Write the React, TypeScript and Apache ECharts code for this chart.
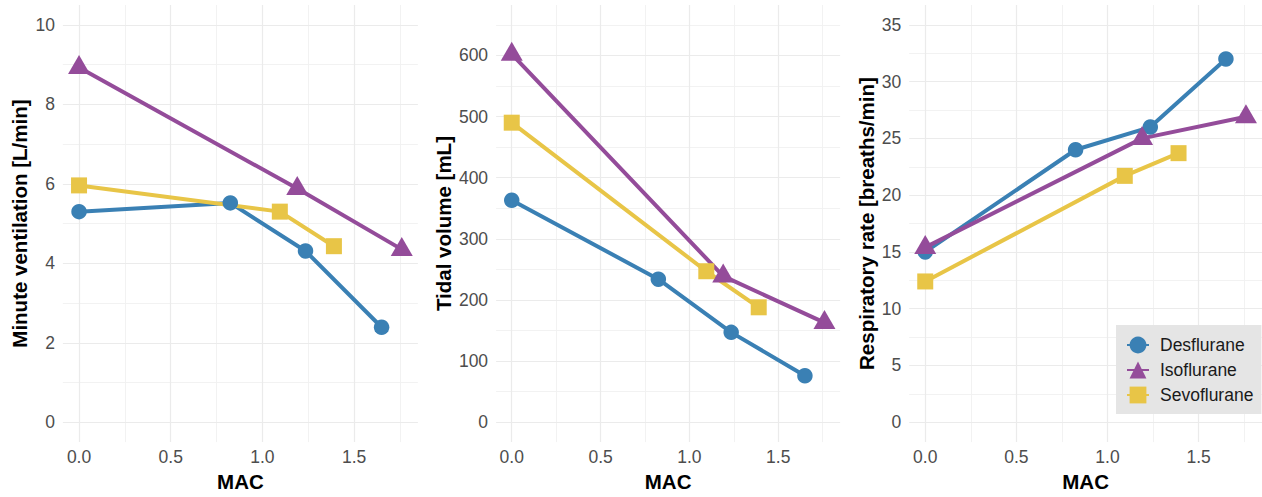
import React, { useEffect, useRef } from "react";
import * as echarts from "echarts";

const FONT = "'Liberation Sans', Arial, Helvetica, sans-serif";

const agents = ["Desflurane", "Isoflurane", "Sevoflurane"];
const agentColors = ["#3A80B4", "#944C9A", "#E8C547"];
const agentSymbols = ["circle", "triangle", "rect"];

// MAC values (x) for each agent
const macDes = [0, 0.825, 1.235, 1.65];
const macIso = [0, 1.19, 1.76];
const macSev = [0, 1.095, 1.39];

// Minute ventilation [L/min]
const mvDes = [5.3, 5.52, 4.31, 2.39];
const mvIso = [8.93, 5.88, 4.35];
const mvSev = [5.96, 5.3, 4.43];

// Tidal volume [mL]
const tvDes = [363, 234, 147, 76];
const tvIso = [602, 239, 163];
const tvSev = [490, 247, 188];

// Respiratory rate [breaths/min]
const rrDes = [15.0, 24.0, 26.0, 32.0];
const rrIso = [15.4, 25.0, 26.9];
const rrSev = [12.4, 21.7, 23.7];

// Tick values
const xMajor = [0, 0.5, 1, 1.5];
const xMinor = [0.25, 0.75, 1.25, 1.75];
const mvMajor = [0, 2, 4, 6, 8, 10];
const mvMinor = [1, 3, 5, 7, 9];
const tvMajor = [0, 100, 200, 300, 400, 500, 600];
const tvMinor = [50, 150, 250, 350, 450, 550, 650];
const rrMajor = [0, 5, 10, 15, 20, 25, 30, 35];
const rrMinor = [2.5, 7.5, 12.5, 17.5, 22.5, 27.5, 32.5];

const panelTitles = ["Minute ventilation [L/min]", "Tidal volume [mL]", "Respiratory rate [breaths/min]"];

function zip(xs: number[], ys: number[]) {
  return xs.map((x, i) => [x, ys[i]]);
}

export default function App() {
  const ref = useRef<HTMLDivElement>(null);

  useEffect(() => {
    if (!ref.current) return;
    const chart = echarts.init(ref.current, undefined, { renderer: "svg" });

    const panels = [
      { macs: [macDes, macIso, macSev], vals: [mvDes, mvIso, mvSev], yMin: -0.5, yMax: 10.5, major: mvMajor, minor: mvMinor, left: 62.9, width: 355, nameGap: 33 },
      { macs: [macDes, macIso, macSev], vals: [tvDes, tvIso, tvSev], yMin: -32.5, yMax: 682.5, major: tvMajor, minor: tvMinor, left: 496.1, width: 344, nameGap: 42 },
      { macs: [macDes, macIso, macSev], vals: [rrDes, rrIso, rrSev], yMin: -1.75, yMax: 36.75, major: rrMajor, minor: rrMinor, left: 909.2, width: 355, nameGap: 32 },
    ];

    const grids: any[] = [];
    const xAxes: any[] = [];
    const yAxes: any[] = [];
    const series: any[] = [];

    const majorLine = { show: true, lineStyle: { color: "#EBEBEB", width: 1.2 } };
    const minorLine = { show: true, lineStyle: { color: "#F1F1F1", width: 0.9 } };

    panels.forEach((p, i) => {
      grids.push({ left: p.left, top: 5, width: p.width, height: 444.5, containLabel: false });
      xAxes.push({
        type: "value", gridIndex: i, min: -0.088, max: 1.848,
        name: "MAC", nameLocation: "middle", nameGap: 26,
        nameTextStyle: { fontFamily: FONT, fontSize: 20.5, fontWeight: "bold", color: "#000" },
        axisLine: { show: false },
        axisTick: { show: false, customValues: xMajor },
        axisLabel: { customValues: xMajor, formatter: (v: number) => v.toFixed(1), fontFamily: FONT, fontSize: 17.5, color: "#4D4D4D", margin: 6 },
        splitLine: majorLine, z: 1,
      });
      xAxes.push({
        type: "value", gridIndex: i, min: -0.088, max: 1.848, position: "bottom",
        axisLine: { show: false }, axisTick: { show: false, customValues: xMinor },
        axisLabel: { show: false, customValues: xMinor }, splitLine: minorLine, z: 0,
      });
      yAxes.push({
        type: "value", gridIndex: i, min: p.yMin, max: p.yMax,
        name: panelTitles[i], nameLocation: "middle", nameGap: p.nameGap,
        nameTextStyle: { fontFamily: FONT, fontSize: 20.5, fontWeight: "bold", color: "#000" },
        axisLine: { show: false },
        axisTick: { show: false, customValues: p.major },
        axisLabel: { customValues: p.major, fontFamily: FONT, fontSize: 17.5, color: "#4D4D4D", margin: 8 },
        splitLine: majorLine, z: 1,
      });
      yAxes.push({
        type: "value", gridIndex: i, min: p.yMin, max: p.yMax, position: "left",
        axisLine: { show: false }, axisTick: { show: false, customValues: p.minor },
        axisLabel: { show: false, customValues: p.minor }, splitLine: minorLine, z: 0,
      });

      agents.forEach((name, k) => {
        series.push({
          type: "line", name, xAxisIndex: 2 * i, yAxisIndex: 2 * i,
          data: zip(p.macs[k], p.vals[k]),
          symbol: agentSymbols[k], symbolSize: 16, showSymbol: false,
          lineStyle: { width: 4, color: agentColors[k] },
          itemStyle: { color: agentColors[k] },
          z: 2, silent: true,
        });
      });
    });

    panels.forEach((p, i) => {
      agents.forEach((name, k) => {
        series.push({
          type: "scatter", name, xAxisIndex: 2 * i, yAxisIndex: 2 * i,
          data: zip(p.macs[k], p.vals[k]),
          symbol: agentSymbols[k],
          symbolSize: k === 1 ? [22, 19] : k === 0 ? 15.5 : 16,
          symbolOffset: k === 1 ? [0, -3] : [0, 0],
          itemStyle: { color: agentColors[k], opacity: 1 },
          z: 3, silent: true,
        });
      });
    });

    chart.setOption({
      animation: false,
      backgroundColor: "#FFFFFF",
      grid: grids,
      xAxis: xAxes,
      yAxis: yAxes,
      legend: {
        data: agents,
        orient: "vertical",
        left: 1116,
        top: 325,
        backgroundColor: "#E5E5E5",
        padding: [11, 8, 10, 10],
        itemWidth: 22,
        itemHeight: 21,
        itemGap: 7,
        selectedMode: false,
        textStyle: { fontFamily: FONT, fontSize: 17.5, color: "#1A1A1A", padding: [0, 0, 0, 6] },
      },
      series,
    });

    return () => chart.dispose();
  }, []);

  return (
    <div
      ref={ref}
      style={{ position: "fixed", left: 0, top: 0, width: 1262, height: 497, background: "#fff" }}
    />
  );
}
